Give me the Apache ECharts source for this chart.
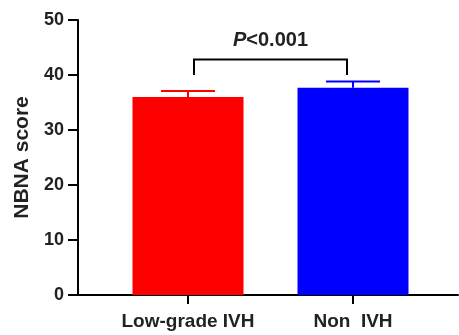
<!DOCTYPE html>
<html><head><meta charset="utf-8">
<script src="https://cdn.jsdelivr.net/npm/echarts@6/dist/echarts.min.js"></script>
<style>html,body{margin:0;padding:0;background:#fff}#c{width:459px;height:335px}</style>
</head><body><div id="c"></div>
<script>
var categories = ['Low-grade IVH', 'Non  IVH'];
var means = [36.0, 37.7];
var errUpper = [37.1, 38.8];
var barColors = ['#ff0000', '#0000ff'];
var yTicks = [0, 10, 20, 30, 40, 50];
var bracketTop = 42.8;
var bracketBottom = 40.0;
var pText = '<0.001';

var chart = echarts.init(document.getElementById('c'));
var font = 'Liberation Sans, Arial, sans-serif';
var TOP = 20, BOTTOM = 40;

chart.setOption({
  animation: false,
  grid: [
    {left: 78, right: 1, top: TOP, bottom: BOTTOM, containLabel: false, outerBoundsMode: 'none'},
    {left: 105.5, right: 23.5, top: TOP, bottom: BOTTOM, containLabel: false, outerBoundsMode: 'none'}
  ],
  xAxis: [
    {gridIndex: 0, type: 'value', min: 0, max: 1,
     axisLine: {show: true, lineStyle: {color: '#000', width: 2}},
     axisTick: {show: false}, axisLabel: {show: false}, splitLine: {show: false}},
    {gridIndex: 1, type: 'category', data: categories,
     axisLine: {show: false},
     axisTick: {show: true, alignWithLabel: true, interval: 0, length: 9, lineStyle: {color: '#000', width: 2}},
     axisLabel: {interval: 0, hideOverlap: false, color: '#222', fontFamily: font, fontWeight: 'bold', fontSize: 19, margin: 17},
     splitLine: {show: false}}
  ],
  yAxis: [
    {gridIndex: 0, type: 'value', min: yTicks[0], max: yTicks[yTicks.length - 1], interval: 10,
     name: 'NBNA score', nameLocation: 'middle', nameGap: 43,
     nameTextStyle: {color: '#222', fontFamily: font, fontWeight: 'bold', fontSize: 21},
     axisLine: {show: true, lineStyle: {color: '#000', width: 2}},
     axisTick: {show: true, length: 10, lineStyle: {color: '#000', width: 2}},
     axisLabel: {color: '#222', fontFamily: font, fontWeight: 'bold', fontSize: 18, margin: 14},
     splitLine: {show: false}},
    {gridIndex: 1, type: 'value', min: yTicks[0], max: yTicks[yTicks.length - 1], interval: 10, show: false}
  ],
  series: [
    {type: 'bar', xAxisIndex: 1, yAxisIndex: 1, barWidth: 111,
     data: means.map(function (v, i) { return {value: v, itemStyle: {color: barColors[i]}}; }),
     z: 2},
    {type: 'custom', xAxisIndex: 1, yAxisIndex: 1, z: 3,
     data: means.map(function (v, i) { return [i, v, errUpper[i]]; }),
     renderItem: function (params, api) {
       var i = api.value(0);
       var p0 = api.coord([i, api.value(1)]);
       var p1 = api.coord([i, api.value(2)]);
       var half = 27;
       var col = barColors[i];
       return {type: 'group', children: [
         {type: 'line', shape: {x1: p0[0], y1: p0[1], x2: p1[0], y2: p1[1]}, style: {stroke: col, lineWidth: 2}},
         {type: 'line', shape: {x1: p1[0] - half, y1: p1[1], x2: p1[0] + half, y2: p1[1]}, style: {stroke: col, lineWidth: 2}}
       ]};
     }},
    {type: 'custom', xAxisIndex: 1, yAxisIndex: 1, z: 4,
     data: [[0, 1, bracketTop, bracketBottom]],
     renderItem: function (params, api) {
       var a = api.coord([api.value(0), api.value(2)]);
       var b = api.coord([api.value(1), api.value(2)]);
       var lo = api.coord([0, api.value(3)]);
       var inset = 6;
       var x1 = a[0] + inset, x2 = b[0] - inset, yt = a[1], yb = lo[1];
       return {type: 'group', children: [
         {type: 'polyline', shape: {points: [[x1, yb], [x1, yt], [x2, yt], [x2, yb]]},
          style: {stroke: '#000', lineWidth: 2, fill: null}},
         {type: 'text', x: (x1 + x2) / 2, y: yt - 9,
          style: {text: '{i|P}{n|' + pText + '}', align: 'center', verticalAlign: 'bottom',
            rich: {
              i: {fontFamily: font, fontWeight: 'bold', fontStyle: 'italic', fontSize: 20, fill: '#222'},
              n: {fontFamily: font, fontWeight: 'bold', fontSize: 20, fill: '#222'}
            }}}
       ]};
     }}
  ]
});
</script></body></html>
